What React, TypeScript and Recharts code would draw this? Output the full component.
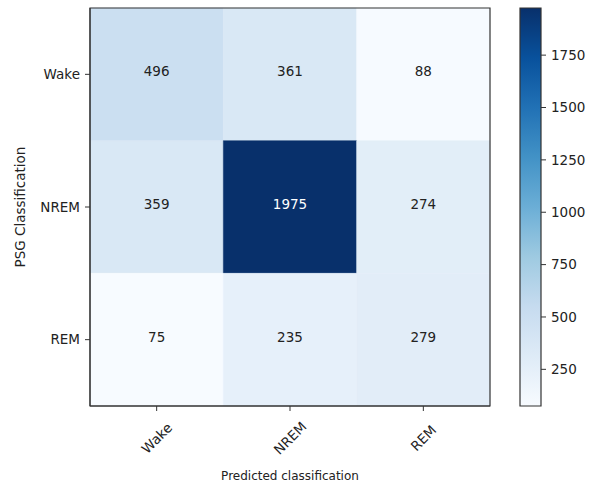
import { ScatterChart, Scatter, XAxis, YAxis, ReferenceArea } from 'recharts';

const rowLabels = ['Wake', 'NREM', 'REM'];
const colLabels = ['Wake', 'NREM', 'REM'];

// rows = PSG classification, columns = predicted
const wakeRow = [496, 361, 88];
const nremRow = [359, 1975, 274];
const remRow = [75, 235, 279];

const colorbarTicks = [250, 500, 750, 1000, 1250, 1500, 1750];

const matrix = [wakeRow, nremRow, remRow];
const allValues = matrix.flat();
const vmin = Math.min(...allValues);
const vmax = Math.max(...allValues);

const cells = matrix.flatMap((row, r) => row.map((v, c) => ({ x: c, y: r, v })));
const barEnds = [{ x: 0.5, y: vmin }, { x: 0.5, y: vmax }];

// matplotlib "Blues"
const blues = ['#f7fbff', '#deebf7', '#c6dbef', '#9ecae1', '#6baed6', '#4292c6', '#2171b5', '#08519c', '#08306b'];

function hexToRgb(h: string) {
  return [1, 3, 5].map(i => parseInt(h.slice(i, i + 2), 16));
}

function bluesColor(v: number) {
  let t = (v - vmin) / (vmax - vmin);
  t = Math.max(0, Math.min(1, t));
  const pos = t * (blues.length - 1);
  const i = Math.min(Math.floor(pos), blues.length - 2);
  const f = pos - i;
  const a = hexToRgb(blues[i]);
  const b = hexToRgb(blues[i + 1]);
  const c = a.map((av, k) => Math.round(av + (b[k] - av) * f));
  return `rgb(${c[0]},${c[1]},${c[2]})`;
}

const font = 'DejaVu Sans';
const textColor = '#222';
const axisColor = '#333';

const CellText = (props: any) => {
  const { cx, cy, payload } = props;
  if (cx == null || cy == null) return null;
  return (
    <text x={cx} y={cy - 3} textAnchor="middle" dominantBaseline="central"
      fontFamily={font} fontSize={13.5} fill={payload.v > vmax / 2 ? '#fff' : textColor}>
      {payload.v}
    </text>
  );
};

const RotatedTick = (props: any) => {
  const { x, y, payload } = props;
  const cy = y + 22;
  return (
    <text x={x} y={cy} textAnchor="middle" dominantBaseline="central"
      transform={`rotate(-45, ${x}, ${cy})`} fontFamily={font} fontSize={13.5} fill={textColor}>
      {colLabels[payload.value]}
    </text>
  );
};

const Nothing = () => <g />;

export default function App() {
  return (
    <div style={{ position: 'fixed', left: 0, top: 0, width: 595, height: 485, background: '#fff' }}>
      <div style={{ position: 'absolute', left: 0, top: 0 }}>
        <ScatterChart width={500} height={485} margin={{ top: 8, right: 10, bottom: 0, left: 0 }}>
          <XAxis type="number" dataKey="x" domain={[-0.5, 2.5]} ticks={[0, 1, 2]} interval={0}
            allowDataOverflow height={79} tickSize={5} tickMargin={5}
            stroke={axisColor} tickLine={{ stroke: axisColor }}
            tick={<RotatedTick />}
            label={{ value: 'Predicted classification', position: 'insideBottom', offset: 5,
              style: { fontFamily: font, fontSize: 12, fill: textColor } }} />
          <YAxis type="number" dataKey="y" domain={[-0.5, 2.5]} ticks={[0, 1, 2]} interval={0}
            reversed allowDataOverflow width={90} tickSize={5} tickMargin={5}
            stroke={axisColor} tickLine={{ stroke: axisColor }}
            tickFormatter={(i: number) => rowLabels[i]}
            tick={{ fontFamily: font, fontSize: 13.5, fill: textColor }}
            label={{ value: 'PSG Classification', angle: -90, position: 'insideLeft', offset: 20,
              style: { fontFamily: font, fontSize: 13.5, fill: textColor, textAnchor: 'middle' } }} />
          {cells.map((d, i) => (
            <ReferenceArea key={i} x1={d.x - 0.5} x2={d.x + 0.5} y1={d.y - 0.5} y2={d.y + 0.5}
              fill={bluesColor(d.v)} fillOpacity={1} stroke={bluesColor(d.v)} strokeWidth={0.5}
              ifOverflow="visible" />
          ))}
          <ReferenceArea x1={-0.5} x2={2.5} y1={-0.5} y2={2.5} fill="none" stroke={axisColor}
            strokeWidth={1.2} ifOverflow="visible" />
          <Scatter data={cells} shape={<CellText />} isAnimationActive={false} />
        </ScatterChart>
      </div>
      <div style={{ position: 'absolute', left: 500, top: 0 }}>
        <ScatterChart width={95} height={485} margin={{ top: 8, right: 0, bottom: 79, left: 20 }}>
          <defs>
            <linearGradient id="bluesBar" x1="0" y1="1" x2="0" y2="0">
              {blues.map((c, i) => (
                <stop key={i} offset={i / (blues.length - 1)} stopColor={c} />
              ))}
            </linearGradient>
          </defs>
          <XAxis type="number" dataKey="x" domain={[0, 1]} allowDataOverflow height={0}
            tick={false} axisLine={false} tickLine={false} />
          <YAxis type="number" dataKey="y" orientation="right" domain={[vmin, vmax]} ticks={colorbarTicks}
            interval={0} allowDataOverflow width={54} tickSize={5} tickMargin={5}
            axisLine={false} tickLine={{ stroke: axisColor }}
            tick={{ fontFamily: font, fontSize: 13.5, fill: textColor, textAnchor: 'start' }} />
          <ReferenceArea x1={0} x2={1} y1={vmin} y2={vmax} fill="url(#bluesBar)" fillOpacity={1}
            stroke={axisColor} strokeWidth={1.2} ifOverflow="visible" />
          <Scatter data={barEnds} shape={<Nothing />} isAnimationActive={false} />
        </ScatterChart>
      </div>
    </div>
  );
}
